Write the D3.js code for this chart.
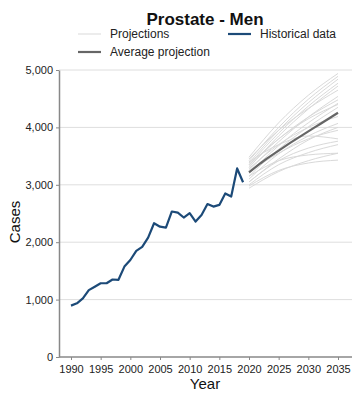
<!DOCTYPE html>
<html><head><meta charset="utf-8">
<script src="https://cdn.jsdelivr.net/npm/d3@7"></script>
<style>body{margin:0;background:#fff}svg{font-family:"Liberation Sans",Arial,sans-serif}</style>
</head><body><svg id="c" width="360" height="400"></svg>
<script>
const histYears = [1990,1991,1992,1993,1994,1995,1996,1997,1998,1999,2000,2001,2002,2003,2004,2005,2006,2007,2008,2009,2010,2011,2012,2013,2014,2015,2016,2017,2018,2019];
const histValues = [895,935,1020,1165,1225,1285,1285,1350,1345,1575,1690,1850,1920,2080,2330,2270,2255,2535,2515,2430,2505,2360,2475,2665,2620,2650,2850,2795,3285,3045];
const projYears = [2020,2025,2030,2035];
const projections = [
  [3480,4080,4560,4940],
  [3420,4000,4490,4890],
  [3380,3950,4430,4840],
  [3350,3900,4370,4770],
  [3300,3850,4320,4720],
  [3450,3950,4330,4650],
  [3250,3750,4180,4540],
  [3320,3800,4180,4480],
  [3200,3680,4080,4420],
  [3150,3620,4010,4350],
  [3350,3800,4150,4400],
  [3280,3700,4000,4190],
  [3100,3540,3850,4070],
  [3050,3450,3780,4000],
  [3230,3550,3800,3950],
  [3400,3700,3850,3800],
  [3050,3420,3640,3760],
  [3000,3350,3560,3700],
  [3150,3420,3520,3550],
  [2980,3250,3380,3430],
  [2940,3230,3420,3550]
];
const avgYears = [2020,2021,2022,2023,2024,2025,2026,2027,2028,2029,2030,2031,2032,2033,2034,2035];
const avgValues = [3217,3300,3380,3455,3525,3595,3665,3735,3800,3865,3930,3995,4060,4125,4190,4255];
const yTicks = [0,1000,2000,3000,4000,5000];
const xTicks = [1990,1995,2000,2005,2010,2015,2020,2025,2030,2035];

const svg = d3.select("#c");
const x = d3.scaleLinear().domain([1990,2035]).range([71,338]);
const y = d3.scaleLinear().domain([0,5000]).range([357,70]);
const L = 59, R = 352;

// gridlines
svg.append("g").selectAll("line").data(yTicks.filter(d=>d>0)).join("line")
  .attr("x1",L).attr("x2",R).attr("y1",d=>y(d)).attr("y2",d=>y(d))
  .attr("stroke","#dedede").attr("stroke-width",1);

// y axis
const ya = svg.append("g").attr("transform",`translate(${L},0)`)
  .call(d3.axisLeft(y).tickValues(yTicks).tickFormat(d3.format(",")).tickSize(3).tickSizeOuter(0));
ya.select(".domain").attr("stroke","#888").attr("stroke-width",1.5);
ya.selectAll(".tick line").attr("stroke","#888");
ya.selectAll("text").attr("font-size",11).attr("fill","#222").attr("font-family","Liberation Sans, Arial");

// x axis
const xa = svg.append("g").attr("transform",`translate(0,357)`)
  .call(d3.axisBottom(x).tickValues(xTicks).tickFormat(d3.format("d")).tickSize(3).tickSizeOuter(0));
xa.select(".domain").attr("d",`M${L},0H${R}`).attr("stroke","#888").attr("stroke-width",1.5);
xa.selectAll(".tick line").attr("stroke","#888");
xa.selectAll("text").attr("font-size",11).attr("fill","#222").attr("font-family","Liberation Sans, Arial").attr("dy","0.9em");

// projections
const lineP = d3.line().x((d,i)=>x(projYears[i])).y(d=>y(d)).curve(d3.curveMonotoneX);
svg.append("g").selectAll("path").data(projections).join("path")
  .attr("d",lineP).attr("fill","none").attr("stroke","#d9d9d9").attr("stroke-width",1);

// average
const lineA = d3.line().x((d,i)=>x(avgYears[i])).y(d=>y(d));
svg.append("path").datum(avgValues).attr("d",lineA).attr("fill","none")
  .attr("stroke","#666").attr("stroke-width",2.2);

// historical
const lineH = d3.line().x((d,i)=>x(histYears[i])).y(d=>y(d));
svg.append("path").datum(histValues).attr("d",lineH).attr("fill","none")
  .attr("stroke","#1c4a78").attr("stroke-width",2.2).attr("stroke-linejoin","round");

// title
svg.append("text").attr("x",205).attr("y",25).attr("text-anchor","middle")
  .attr("font-size",17).attr("font-weight","bold").attr("fill","#111").text("Prostate - Men");

// legend
const leg = [
  {label:"Projections", color:"#d9d9d9", w:1, lx:78, ly:34},
  {label:"Historical data", color:"#1c4a78", w:2.2, lx:228, ly:34},
  {label:"Average projection", color:"#666", w:2.2, lx:78, ly:52}
];
const lg = svg.append("g").selectAll("g").data(leg).join("g");
lg.append("line").attr("x1",d=>d.lx).attr("x2",d=>d.lx+23).attr("y1",d=>d.ly).attr("y2",d=>d.ly)
  .attr("stroke",d=>d.color).attr("stroke-width",d=>d.w);
lg.append("text").attr("x",d=>d.lx+32).attr("y",d=>d.ly+4).attr("font-size",12).attr("fill","#222").text(d=>d.label);

// axis titles
svg.append("text").attr("x",205).attr("y",389).attr("text-anchor","middle").attr("font-size",15).attr("fill","#111").text("Year");
svg.append("text").attr("transform","translate(20,222) rotate(-90)").attr("text-anchor","middle").attr("font-size",15).attr("fill","#111").text("Cases");
</script></body></html>
